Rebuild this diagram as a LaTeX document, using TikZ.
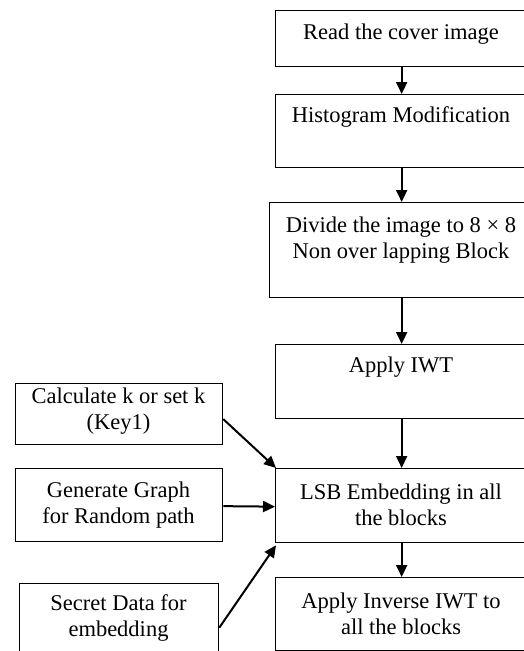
\documentclass[tikz,border=0pt]{standalone}
\usepackage{fontspec}
\setmainfont{Liberation Serif}
\usetikzlibrary{arrows.meta,calc}
\begin{document}
\begin{tikzpicture}[x=1pt,y=-1pt,
  box/.style={draw,line width=1.3pt,rectangle,inner sep=0pt,anchor=north west},
  lbl/.style={font=\fontsize{22.5}{26.5}\selectfont,align=center,inner sep=0pt},
  arr/.style={line width=2pt,-{Triangle[length=12pt,width=11pt]}}]
\useasboundingbox (0,0) rectangle (524,651);
\clip (0,0) rectangle (524,651);
% main column boxes
\node[box,minimum width=252pt,minimum height=56pt] (b1) at (275,10) {};
\node[box,minimum width=252pt,minimum height=73pt] (b2) at (275,94) {};
\node[box,minimum width=264pt,minimum height=95pt] (b3) at (269,202) {};
\node[box,minimum width=252pt,minimum height=74pt] (b4) at (275,344) {};
\node[box,minimum width=252pt,minimum height=74pt] (b5) at (275,468) {};
\node[box,minimum width=252pt,minimum height=73pt] (b6) at (275,577) {};
% left boxes
\node[box,minimum width=207pt,minimum height=61pt] (c1) at (15,383) {};
\node[box,minimum width=207pt,minimum height=73pt] (c2) at (15,468) {};
\node[box,minimum width=199pt,minimum height=72pt] (c3) at (19,583) {};
% labels
\node[lbl] (t1) at (401,34) {Read the cover image};
\node[lbl] (t2) at (401,117) {Histogram Modification};
\node[lbl] (t3) at (401,240) {Divide the image to 8 × 8\\Non over lapping Block};
\node[lbl] (t4) at (401,367) {Apply IWT};
\node[lbl] (t5) at (401,505) {LSB Embedding in all\\the blocks};
\node[lbl] (t6) at (401,614) {Apply Inverse IWT to\\all the blocks};
\node[lbl] (s1) at (118.5,411) {Calculate k or set k\\(Key1)};
\node[lbl] (s2) at (118.5,505) {Generate Graph\\for Random path};
\node[lbl] (s3) at (118.5,618) {Secret Data for\\embedding};
% arrows
\draw[arr] (b1.south) -- (b2.north);
\draw[arr] (b2.south) -- (b3.north -| b2.south);
\draw[arr] (b3.south -| b4.north) -- (b4.north);
\draw[arr] (b4.south) -- (b5.north);
\draw[arr] (b5.south) -- (b6.north);
\draw[arr] ([yshift=-5pt]c1.east) -- ([xshift=1pt]b5.north west);
\draw[arr] ([yshift=-1pt]c2.east) -- ([yshift=-1pt]b5.west);
\draw[arr] ([yshift=-8pt]c3.east) -- ([xshift=1pt,yshift=-2pt]b5.south west);
\end{tikzpicture}
\end{document}
